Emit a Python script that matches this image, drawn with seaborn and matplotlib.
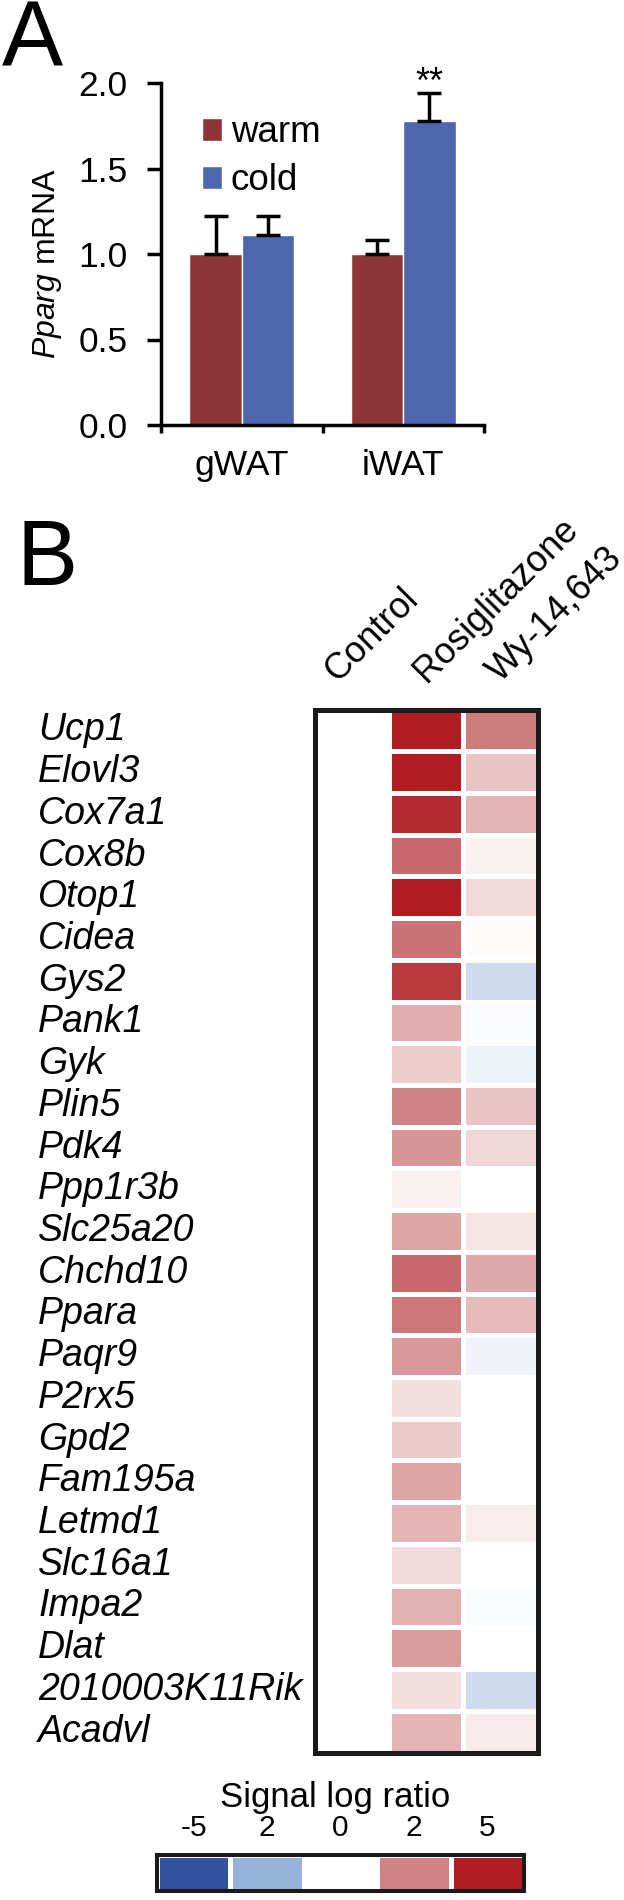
import numpy as np
import pandas as pd
import seaborn as sns
import matplotlib.pyplot as plt
from matplotlib.colors import LinearSegmentedColormap
from matplotlib.transforms import ScaledTranslation

# Panel A data: Pparg mRNA (mean, upper SEM)
tissues = ['gWAT', 'iWAT']
warm_mean = [1.00, 1.00]
warm_sem = [0.22, 0.08]
cold_mean = [1.11, 1.78]
cold_sem = [0.11, 0.16]

# Panel B data: signal log ratio per gene
genes = ['Ucp1', 'Elovl3', 'Cox7a1', 'Cox8b', 'Otop1', 'Cidea', 'Gys2', 'Pank1',
         'Gyk', 'Plin5', 'Pdk4', 'Ppp1r3b', 'Slc25a20', 'Chchd10', 'Ppara', 'Paqr9',
         'P2rx5', 'Gpd2', 'Fam195a', 'Letmd1', 'Slc16a1', 'Impa2', 'Dlat',
         '2010003K11Rik', 'Acadvl']
treatments = ['Control', 'Rosiglitazone', 'Wy-14,643']
control = [0.0, 0.0, 0.0, 0.0, 0.0, 0.0, 0.0, 0.0, 0.0, 0.0, 0.0, 0.0, 0.0,
           0.0, 0.0, 0.0, 0.0, 0.0, 0.0, 0.0, 0.0, 0.0, 0.0, 0.0, 0.0]
rosi = [5.0, 5.0, 4.6, 2.75, 5.0, 2.5, 4.2, 1.3, 0.8, 2.0, 1.7, 0.2, 1.45,
        2.8, 2.4, 1.65, 0.5, 0.85, 1.45, 1.2, 0.6, 1.27, 1.6, 0.5, 1.2]
wy = [2.2, 0.95, 1.2, 0.2, 0.6, 0.05, -0.9, -0.1, -0.35, 0.95, 0.65, 0.02, 0.4,
      1.4, 1.1, -0.3, 0.0, 0.0, 0.0, 0.3, 0.0, -0.1, 0.0, -0.9, 0.35]

# colour key
scale_values = [-5, -2, 0, 2, 5]
scale_labels = ['-5', '2', '0', '2', '5']

W, H = 624, 1900


def box(x0, y0, x1, y1):
    # pixel box (from top-left) -> figure fraction rect
    return [x0 / W, 1 - y1 / H, (x1 - x0) / W, (y1 - y0) / H]


def main():
    sns.set_style('ticks')
    plt.rcParams['font.family'] = ['Liberation Sans', 'DejaVu Sans']
    plt.rcParams['mathtext.fontset'] = 'custom'
    plt.rcParams['mathtext.rm'] = 'Liberation Sans'
    plt.rcParams['mathtext.it'] = 'Liberation Sans:italic'
    for k in ['text.color', 'axes.labelcolor', 'xtick.color', 'ytick.color', 'axes.edgecolor']:
        plt.rcParams[k] = 'black'

    fig = plt.figure(figsize=(W / 100, H / 100), dpi=100)

    # 1. Panel A - bar chart
    axa = fig.add_axes(box(161, 83, 484, 425))
    df_a = pd.DataFrame({'tissue': tissues * 2,
                         'temp': ['warm'] * 2 + ['cold'] * 2,
                         'mrna': warm_mean + cold_mean})
    sns.barplot(data=df_a, x='tissue', y='mrna', hue='temp',
                palette={'warm': '#8E3537', 'cold': '#4E66AC'},
                width=0.65, saturation=1, errorbar=None, ax=axa)

    sems = {'warm': warm_sem, 'cold': cold_sem}
    for cont, level in zip(axa.containers, ['warm', 'cold']):
        xs = [b.get_x() + b.get_width() / 2 for b in cont]
        hs = [b.get_height() for b in cont]
        axa.errorbar(xs, hs, yerr=[np.zeros(len(xs)), sems[level]], fmt='none',
                     ecolor='black', elinewidth=2.5, capsize=8.5, capthick=2.5)
        if level == 'cold':
            axa.text(xs[1], hs[1] + sems[level][1], '**', ha='center',
                     va='baseline', fontsize=26)

    axa.set_xlim(-0.5, 1.5)
    axa.set_ylim(0, 2.0)
    axa.set_yticks([0, 0.5, 1.0, 1.5, 2.0])
    axa.set_yticklabels(['0.0', '0.5', '1.0', '1.5', '2.0'])
    axa.set_xticks([-0.5, 0.5, 1.5], minor=True)
    axa.tick_params(axis='x', which='major', length=0, pad=17, labelsize=25.5)
    axa.tick_params(axis='x', which='minor', length=6, width=2.5, direction='out')
    axa.tick_params(axis='y', length=10, width=2.5, pad=14, labelsize=25.5)
    axa.set_xlabel('')
    axa.set_ylabel(r'$Pparg$ mRNA', fontsize=23)
    axa.yaxis.set_label_coords(-0.30, 0.47)
    sns.despine(ax=axa)
    for s in ['left', 'bottom']:
        axa.spines[s].set_linewidth(2.5)
    axa.legend(frameon=False, loc='upper left', bbox_to_anchor=(0.127, 0.905),
               fontsize=26.5, handlelength=0.53, handleheight=0.6,
               handletextpad=0.25, labelspacing=0.35, borderpad=0, borderaxespad=0)

    # 2. Panel B - heatmap
    cmap = LinearSegmentedColormap.from_list(
        'slr', [(0.0, '#3352A0'), (0.3, '#99B4DA'), (0.5, '#FFFFFF'),
                (0.7, '#D08486'), (1.0, '#B01E24')])
    heat = pd.DataFrame({'Control': control, 'Rosiglitazone': rosi,
                         'Wy-14,643': wy}, index=genes)
    axh = fig.add_axes(box(314.5, 709.5, 537.5, 1752.5))
    sns.heatmap(heat, cmap=cmap, vmin=-5, vmax=5, cbar=False,
                linewidths=2.5, linecolor='white', ax=axh)
    axh.xaxis.tick_top()
    axh.set_xticklabels(treatments, rotation=45, ha='left', va='baseline',
                        rotation_mode='anchor', fontsize=26)
    axh.set_yticklabels(genes, rotation=0, ha='left', fontstyle='italic',
                        fontsize=27)
    axh.tick_params(axis='y', length=0, pad=(314.5 - 38) / 1.389)
    axh.tick_params(axis='x', length=0, pad=19)
    # the "Control" label sits a little left of its column in the original
    lab = axh.get_xticklabels()[0]
    lab.set_transform(lab.get_transform() + ScaledTranslation(-0.15, 0, fig.dpi_scale_trans))
    for s in axh.spines.values():
        s.set_visible(True)
        s.set_linewidth(3.6)
        s.set_color('#1a1a1a')

    # 3. Colour key
    axc = fig.add_axes(box(157, 1855, 524, 1891))
    sns.heatmap(np.array([scale_values]), cmap=cmap, vmin=-5, vmax=5, cbar=False,
                linewidths=2.5, linecolor='white', xticklabels=scale_labels,
                yticklabels=False, ax=axc)
    axc.xaxis.tick_top()
    axc.tick_params(axis='x', length=0, pad=9, labelsize=21.5, rotation=0)
    for s in axc.spines.values():
        s.set_visible(True)
        s.set_linewidth(2.9)
        s.set_color('#1a1a1a')
    fig.text(335 / W, 1 - 1807 / H, 'Signal log ratio', ha='center',
             va='baseline', fontsize=25)

    # panel letters
    fig.text(2 / W, 1 - 67 / H, 'A', fontsize=66, va='baseline')
    fig.text(17 / W, 1 - 585 / H, 'B', fontsize=66, va='baseline')

    fig.savefig('out.png', dpi=100)


if __name__ == "__main__":
    main()
